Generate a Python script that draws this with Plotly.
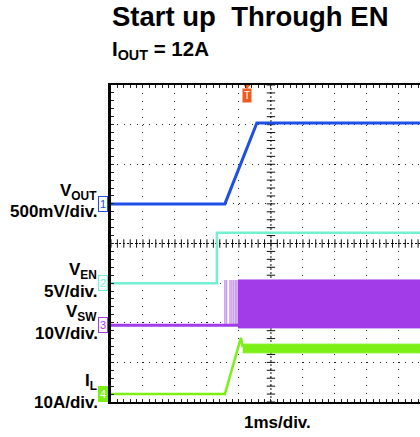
import plotly.graph_objects as go

# ---------------- data (read from the scope capture) ----------------
# time axis: ms from the left edge of the screen, 1 ms/div
T_END = 9.66
# channel settings: offset (div from bottom), scale (units/div)
CH = {
    "VOUT": dict(offset=5.0, scale=0.5),   # 500 mV/div
    "VEN":  dict(offset=3.0, scale=5.0),   # 5 V/div
    "VSW":  dict(offset=1.94, scale=10.0), # 10 V/div
    "IL":   dict(offset=0.2, scale=10.0),  # 10 A/div
}
vout_t = [0.0, 3.56, 4.56, T_END]
vout_v = [0.0, 0.0, 1.02, 1.02]

ven_t = [0.0, 3.31, 3.31, T_END]
ven_v = [0.0, 0.0, 6.35, 6.35]

vsw_base_t = [0.0, 3.97]
vsw_base_v = [0.0, 0.0]
vsw_pulse_t = [3.56, 3.61, 3.72, 3.78, 3.84, 3.90, 3.94]
vsw_pulse_hi = 11.4
vsw_sw_start = 3.97
vsw_env_hi = 11.4
vsw_env_lo = -0.7

il_t = [0.0, 3.56, 4.06, 4.12]
il_a = [0.0, 0.0, 14.2, 11.8]
il_ripple_start = 4.12
il_ripple_hi = 12.6
il_ripple_lo = 10.4

trigger_t = 4.25

labels = [("V<sub>OUT</sub>", "500mV/div.", "VOUT", "1"),
          ("V<sub>EN</sub>", "5V/div.", "VEN", "2"),
          ("V<sub>SW</sub>", "10V/div.", "VSW", "3"),
          ("I<sub>L</sub>", "10A/div.", "IL", "4")]

COL = {"VOUT": "#1e50e6", "VEN": "#72f0d2", "VSW": "#a23ce8", "IL": "#7cf014"}


def scr(ch, vals):
    c = CH[ch]
    return [c["offset"] + v / c["scale"] for v in vals]


fig = go.Figure()

# center graticule cross ticks
minor = [round(i * 0.2, 2) for i in range(0, 51)]
ctr_x = [m for m in minor if m <= T_END]
fig.add_trace(go.Scatter(x=[5.0] * 41, y=[round(i * 0.2, 2) for i in range(41)], mode="markers",
                         marker=dict(symbol="line-ew", size=6, line=dict(width=1, color="#111")),
                         hoverinfo="skip", showlegend=False))
fig.add_trace(go.Scatter(x=ctr_x, y=[4.0] * len(ctr_x), mode="markers",
                         marker=dict(symbol="line-ns", size=6, line=dict(width=1, color="#111")),
                         hoverinfo="skip", showlegend=False))

# VSW: baseline, sparse start pulses, dense switching envelope
px, py = [], []
for p in vsw_pulse_t:
    px += [p, p, None]
    py += scr("VSW", [0.0, vsw_pulse_hi]) + [None]
fig.add_trace(go.Scatter(x=px, y=py, mode="lines", line=dict(color="#c99af0", width=1.5),
                         hoverinfo="skip", showlegend=False))
fig.add_trace(go.Scatter(x=[vsw_sw_start, T_END, T_END, vsw_sw_start],
                         y=scr("VSW", [vsw_env_hi, vsw_env_hi, vsw_env_lo, vsw_env_lo]),
                         mode="lines", fill="toself", fillcolor=COL["VSW"],
                         line=dict(color=COL["VSW"], width=1), hoverinfo="skip", showlegend=False))
fig.add_trace(go.Scatter(x=vsw_base_t, y=scr("VSW", vsw_base_v), mode="lines",
                         line=dict(color=COL["VSW"], width=3), hoverinfo="skip", showlegend=False))

# VEN
fig.add_trace(go.Scatter(x=ven_t, y=scr("VEN", ven_v), mode="lines",
                         line=dict(color=COL["VEN"], width=2.5), hoverinfo="skip", showlegend=False))
# VOUT
fig.add_trace(go.Scatter(x=vout_t, y=scr("VOUT", vout_v), mode="lines",
                         line=dict(color=COL["VOUT"], width=3), hoverinfo="skip", showlegend=False))
# IL
fig.add_trace(go.Scatter(x=il_t, y=scr("IL", il_a), mode="lines",
                         line=dict(color=COL["IL"], width=2.5), hoverinfo="skip", showlegend=False))
fig.add_trace(go.Scatter(x=[il_ripple_start, T_END, T_END, il_ripple_start],
                         y=scr("IL", [il_ripple_hi, il_ripple_hi, il_ripple_lo, il_ripple_lo]),
                         mode="lines", fill="toself", fillcolor=COL["IL"],
                         line=dict(color=COL["IL"], width=1), hoverinfo="skip", showlegend=False))

# center dashed lines
fig.add_shape(type="line", x0=5, x1=5, y0=0, y1=8, line=dict(color="#111", width=1, dash="2px,2px"),
              layer="below")
fig.add_shape(type="line", x0=0, x1=T_END, y0=4, y1=4, line=dict(color="#111", width=1, dash="2px,2px"),
              layer="below")

FONT = "Liberation Sans, Arial, sans-serif"
ann = []
for top, bot, ch, num in labels:
    off = CH[ch]["offset"]
    ann.append(dict(text="<b>" + top + "</b>", xref="paper", yref="y", x=0, y=off + 0.30,
                    xanchor="right", yanchor="middle", xshift=-12, showarrow=False,
                    font=dict(family=FONT, size=17, color="black")))
    ann.append(dict(text="<b>" + bot + "</b>", xref="paper", yref="y", x=0, y=off - 0.2,
                    xanchor="right", yanchor="middle", xshift=-11, showarrow=False,
                    font=dict(family=FONT, size=17, color="black")))
    filled = ch == "IL"
    ann.append(dict(text=num, xref="paper", yref="y", x=0, y=off, xanchor="right", yanchor="middle",
                    xshift=-3, showarrow=False, borderwidth=1, borderpad=1, bordercolor=COL[ch],
                    bgcolor=COL[ch] if filled else "white",
                    font=dict(family=FONT, size=11, color="white" if filled else COL[ch])))

ann.append(dict(text="<b>Start up&nbsp; Through EN</b>", xref="paper", yref="paper", x=0, y=1.215,
                xanchor="left", yanchor="middle", xshift=-1, showarrow=False,
                font=dict(family=FONT, size=27.5, color="black")))
ann.append(dict(text="<b>I<sub>OUT</sub> = 12A</b>", xref="paper", yref="paper", x=0, y=1.11,
                xanchor="left", yanchor="middle", xshift=-1, showarrow=False,
                font=dict(family=FONT, size=20.5, color="black")))
ann.append(dict(text="<b>1ms/div.</b>", xref="x", yref="paper", x=5.2, y=-0.065,
                xanchor="center", yanchor="middle", showarrow=False,
                font=dict(family=FONT, size=17, color="black")))
ann.append(dict(text="T", xref="x", yref="paper", x=trigger_t, y=1.0, xanchor="center", yanchor="top",
                yshift=-3, showarrow=False, bgcolor="#f05a1e", borderpad=1,
                font=dict(family=FONT, size=10, color="white")))

fig.add_trace(go.Scatter(x=[trigger_t], y=[7.97], mode="markers",
                         marker=dict(symbol="triangle-down", size=6, color="#f05a1e"),
                         hoverinfo="skip", showlegend=False, cliponaxis=False))

fig.update_layout(
    width=420, height=437,
    margin=dict(l=111, r=0, t=85, b=35),
    plot_bgcolor="white", paper_bgcolor="white",
    annotations=ann, showlegend=False,
)
fig.update_xaxes(range=[0, T_END], showgrid=True, dtick=1, tick0=0, gridcolor="#222", gridwidth=1,
                 griddash="1px,6.9px", zeroline=False, showticklabels=False,
                 showline=True, linecolor="black", linewidth=2, mirror="allticks",
                 ticks="inside", ticklen=3, tickcolor="#222",
                 minor=dict(ticks="inside", ticklen=3, dtick=0.2, tick0=0, tickcolor="#222", showgrid=False))
fig.update_yaxes(range=[0, 8], showgrid=True, dtick=1, tick0=0, gridcolor="#222", gridwidth=1,
                 griddash="1px,5.4px", zeroline=False, showticklabels=False,
                 showline=True, linecolor="black", linewidth=3, mirror=False,
                 ticks="inside", ticklen=3, tickcolor="#222",
                 minor=dict(ticks="inside", ticklen=3, dtick=0.2, tick0=0, tickcolor="#222", showgrid=False))

fig.write_html("out.html", config={"displayModeBar": False, "staticPlot": True},
               post_script="document.body.style.margin='0';document.body.style.overflow='hidden';")
